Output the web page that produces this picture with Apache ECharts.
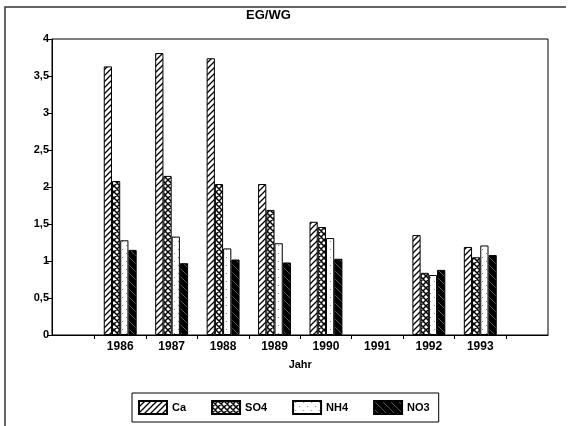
<!DOCTYPE html>
<html>
<head>
<meta charset="utf-8">
<script src="https://cdn.jsdelivr.net/npm/echarts@6/dist/echarts.min.js"></script>
<style>
html, body { margin: 0; padding: 0; background: #fff; }
#chart-box { width: 570px; height: 426px; }
</style>
</head>
<body>
<div id="chart-box"></div>
<script>
// data
var years = ['1986', '1987', '1988', '1989', '1990', '1991', '1992', '1993'];
var ca  = [3.63, 3.81, 3.74, 2.04, 1.53, null, 1.35, 1.19];
var so4 = [2.08, 2.15, 2.04, 1.69, 1.46, null, 0.84, 1.05];
var nh4 = [1.28, 1.33, 1.17, 1.24, 1.31, null, 0.81, 1.21];
var no3 = [1.15, 0.97, 1.02, 0.98, 1.03, null, 0.88, 1.08];
var seriesNames = ['Ca', 'SO4', 'NH4', 'NO3'];
var yTicks = { min: 0, max: 4, step: 0.5 };

// hatch fills like the old b/w print
function makePattern(kind) {
    var c = document.createElement('canvas');
    var s = kind === 'dots' || kind === 'dark' ? 8 : 6;
    c.width = s; c.height = s;
    var g = c.getContext('2d');
    g.fillStyle = kind === 'dark' ? '#000' : '#fff';
    g.fillRect(0, 0, s, s);
    g.strokeStyle = '#000';
    if (kind === 'slash' || kind === 'cross') {
        g.lineWidth = kind === 'cross' ? 1.5 : 1.3;
        g.beginPath();
        g.moveTo(-1, s + 1); g.lineTo(s + 1, -1);
        g.moveTo(-1, 1); g.lineTo(1, -1);
        g.moveTo(s - 1, s + 1); g.lineTo(s + 1, s - 1);
        if (kind === 'cross') {
            g.moveTo(-1, -1); g.lineTo(s + 1, s + 1);
            g.moveTo(s - 1, -1); g.lineTo(s + 1, 1);
            g.moveTo(-1, s - 1); g.lineTo(1, s + 1);
        }
        g.stroke();
    } else if (kind === 'dots') {
        g.fillStyle = '#888';
        g.fillRect(2, 1, 1, 1);
        g.fillRect(6, 5, 1, 1);
    } else if (kind === 'dark') {
        g.strokeStyle = 'rgba(255,255,255,0.45)';
        g.lineWidth = 0.8;
        g.beginPath();
        g.moveTo(0, 0); g.lineTo(s, s);
        g.stroke();
    }
    return { image: c, repeat: 'repeat' };
}

var fills = [makePattern('slash'), makePattern('cross'), makePattern('dots'), makePattern('dark')];
var values = [ca, so4, nh4, no3];

var font = 'Liberation Sans, Arial, sans-serif';

var option = {
    animation: false,
    backgroundColor: '#fff',
    title: {
        text: 'EG/WG',
        left: 246,
        top: 9,
        padding: 0,
        textStyle: { fontFamily: font, fontSize: 13, fontWeight: 'bold', color: '#000' }
    },
    legend: {
        data: seriesNames,
        icon: 'rect',
        left: 132,
        top: 393,
        padding: [7, 9, 7, 6],
        itemWidth: 28,
        itemHeight: 13,
        itemGap: 25,
        borderColor: '#000',
        borderWidth: 1,
        textStyle: { fontFamily: font, fontSize: 11, fontWeight: 'bold', color: '#000' }
    },
    graphic: [{
        type: 'polyline',
        shape: { points: [[5, 430], [5, 7], [566, 7]] },
        style: { stroke: '#333', lineWidth: 1.5, fill: null }
    }],
    grid: [
        { left: 52, right: 22, top: 39, bottom: 91, show: true, borderColor: '#000', borderWidth: 1 },
        { left: 94.5, right: 64, top: 39, bottom: 91 }
    ],
    xAxis: [{
        gridIndex: 0,
        type: 'category',
        data: [''],
        axisLine: { show: true, lineStyle: { color: '#000', width: 1 } },
        axisTick: { show: false },
        axisLabel: { show: false },
        splitLine: { show: false }
    }, {
        gridIndex: 1,
        type: 'category',
        data: years,
        name: 'Jahr',
        nameLocation: 'middle',
        nameGap: 24,
        nameTextStyle: { fontFamily: font, fontSize: 11, fontWeight: 'bold', color: '#000' },
        axisLine: { show: true, lineStyle: { color: '#000', width: 1 } },
        axisTick: { show: true, length: 4, lineStyle: { color: '#000' } },
        axisLabel: { margin: 6, fontFamily: font, fontSize: 12, fontWeight: 'bold', color: '#000' },
        splitLine: { show: false }
    }],
    yAxis: [{
        gridIndex: 0,
        type: 'value',
        min: yTicks.min,
        max: yTicks.max,
        interval: yTicks.step,
        axisLine: { show: true, lineStyle: { color: '#000', width: 1 } },
        axisTick: { show: true, length: 5, lineStyle: { color: '#000' } },
        axisLabel: {
            margin: 3,
            fontFamily: font, fontSize: 11, fontWeight: 'bold', color: '#000',
            formatter: function (v) { return String(v).replace('.', ','); }
        },
        splitLine: { show: false }
    }, {
        gridIndex: 1,
        type: 'value',
        min: yTicks.min,
        max: yTicks.max,
        show: false,
        splitLine: { show: false }
    }],
    series: seriesNames.map(function (name, i) {
        return {
            name: name,
            type: 'bar',
            xAxisIndex: 1,
            yAxisIndex: 1,
            data: values[i],
            barGap: '0%',
            barCategoryGap: '36%',
            itemStyle: { color: fills[i], borderColor: '#000', borderWidth: 1 }
        };
    })
};

var myChart = echarts.init(document.getElementById('chart-box'), null, { renderer: 'canvas' });
myChart.setOption(option);
</script>
</body>
</html>
